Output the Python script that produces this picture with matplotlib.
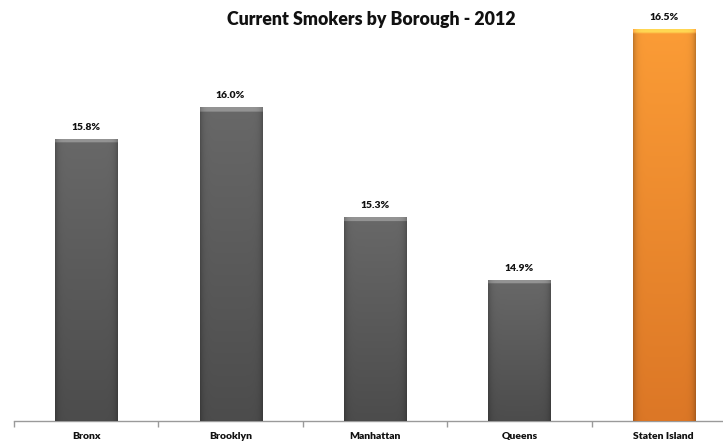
import matplotlib
matplotlib.use("Agg")
import matplotlib.pyplot as plt
import numpy as np
from matplotlib.colors import to_rgb

boroughs = ["Bronx", "Brooklyn", "Manhattan", "Queens", "Staten Island"]
smokers_pct = [15.8, 16.0, 15.3, 14.9, 16.5]
labels = ["15.8%", "16.0%", "15.3%", "14.9%", "16.5%"]

Y_MIN, Y_MAX = 14.0, 16.5
BAR_W = 0.43
GRAY = ("#686868", "#4c4c4c")
ORANGE = ("#fb9c36", "#dc7726")

plt.rcParams["font.family"] = ["Lato", "DejaVu Sans"]

fig = plt.figure(figsize=(7.23, 4.43), dpi=100)
ax = fig.add_axes([14 / 723, 22 / 443, 722 / 723, 392 / 443])

x = np.arange(len(boroughs))


def bar_image(top, bottom, height_units):
    ny, nx = 200, 60
    c_top = np.array(to_rgb(top))
    c_bot = np.array(to_rgb(bottom))
    t = np.linspace(0, 1, ny)[:, None, None]
    img = c_top * (1 - t) + c_bot * t
    img = np.repeat(img, nx, axis=1)
    u = np.linspace(-1, 1, nx)[None, :, None]
    shade = 1 - 0.22 * np.abs(u) ** 10
    img = img * shade
    # bevel at the top of the bar
    bevel = max(int(round(ny * (4 / 156.8) / height_units)), 2)
    img[:bevel] = np.clip(img[:bevel] * 1.3 + 0.05, 0, 1)
    return np.clip(img, 0, 1)


for i, (xi, val) in enumerate(zip(x, smokers_pct)):
    cols = ORANGE if i == len(boroughs) - 1 else GRAY
    rect = ax.bar(xi, val - Y_MIN, bottom=Y_MIN, width=BAR_W,
                  color=cols[1], edgecolor="none", zorder=2)[0]
    img = bar_image(cols[0], cols[1], val - Y_MIN)
    im = ax.imshow(img, extent=[xi - BAR_W / 2, xi + BAR_W / 2, Y_MIN, val],
                   aspect="auto", zorder=3, interpolation="bilinear")
    im.set_clip_path(rect)
    ax.text(xi, val + 0.045, labels[i], ha="center", va="bottom",
            fontsize=7.5, fontweight="heavy", color="#111111", clip_on=False)

ax.set_xlim(-0.5, len(boroughs) - 0.5)
ax.set_ylim(Y_MIN, Y_MAX)
ax.set_facecolor("white")

for side in ("left", "right", "top"):
    ax.spines[side].set_visible(False)
ax.spines["bottom"].set_color("#9a9a9a")
ax.spines["bottom"].set_linewidth(1.0)

ax.set_yticks([])
ax.set_xticks(x)
ax.set_xticklabels(boroughs, fontsize=7.5, fontweight="heavy", color="#111111")
ax.tick_params(axis="x", length=0, pad=8)
ax.set_xticks(np.arange(len(boroughs) + 1) - 0.5, minor=True)
ax.tick_params(axis="x", which="minor", length=4, color="#9a9a9a", width=1.0)

fig.text(371 / 723, 1 - 19 / 443, "Current Smokers by Borough - 2012",
         ha="center", va="center", fontsize=12.8, fontweight="heavy",
         color="#111111")

fig.savefig("out.png", dpi=100, facecolor="white")
